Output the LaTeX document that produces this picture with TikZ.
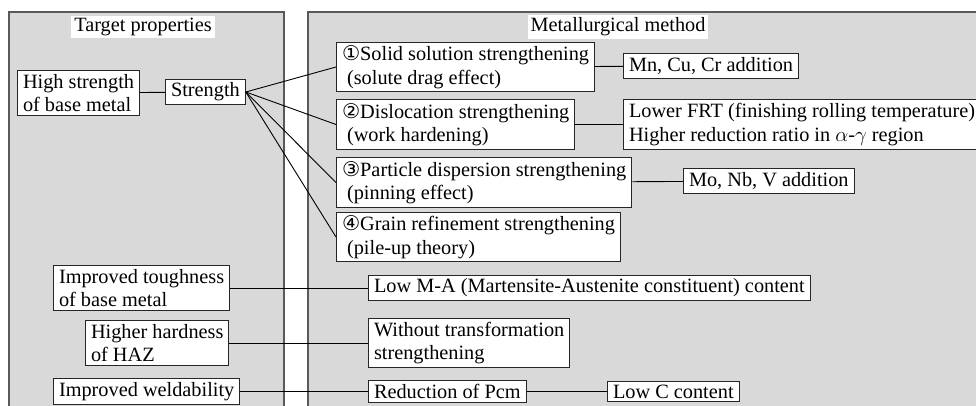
\documentclass[tikz,border=0pt]{standalone}
\usepackage{fontspec}
\setmainfont{Liberation Serif}
\newfontfamily\circfont{DejaVu Sans}
\newcommand{\cnum}[1]{{\circfont #1}}
\usetikzlibrary{positioning, calc}

\begin{document}
\begin{tikzpicture}[x=1pt, y=-1pt,
    font=\fontsize{20.3}{23.5}\selectfont,
    panel/.style={fill=black!15},
    rim/.style={draw=black!65, line width=1.2pt},
    head/.style={fill=white, inner xsep=3pt, inner ysep=2.5pt},
    box/.style={draw=black!85, fill=white, line width=1pt, align=left,
      inner xsep=5.5pt, inner ysep=3.5pt, anchor=west},
    link/.style={draw=black, line width=0.9pt}]
    \useasboundingbox (0,0) rectangle (976,406);

    % the two panels
    \fill[panel] (9,12) rectangle (284,406);
    \fill[panel] (308,12) rectangle (976,406);
    \draw[rim] (9,406) -- (9,12) -- (284,12) -- (284,406);
    \draw[rim] (308,406) -- (308,12) -- (976,12);

    \node[head] (tgthead) at (143,27) {Target properties};
    \node[head] (methead) at (618,27) {Metallurgical method};

    % strength branch
    \node[box] (basestr) at (17,93) {High strength\\of base metal};
    \node[box] (strength) at (165,92) {Strength};
    \node[box] (solid) at (336,67) {\cnum{①}Solid solution strengthening\\\ (solute drag effect)};
    \node[box] (disloc) at (336,124.5) {\cnum{②}Dislocation strengthening\\\ (work hardening)};
    \node[box] (partic) at (336,182.5) {\cnum{③}Particle dispersion strengthening\\\ (pinning effect)};
    \node[box] (grain) at (336,237) {\cnum{④}Grain refinement strengthening\\\ (pile-up theory)};
    \node[box] (mncucr) at (623,66) {Mn, Cu, Cr addition};
    \node[box] (frt) at (623,124.5)
      {Lower FRT (finishing rolling temperature)\\Higher reduction ratio in $\alpha$-$\gamma$ region};
    \node[box] (monbv) at (683,181) {Mo, Nb, V addition};

    % other properties
    \node[box] (tough) at (53,288) {Improved toughness\\of base metal};
    \node[box] (lowma) at (368,288) {Low M-A (Martensite-Austenite constituent) content};
    \node[box] (haz) at (85,343) {Higher hardness\\of HAZ};
    \node[box] (notrans) at (368,343) {Without transformation\\strengthening};
    \node[box] (weld) at (53,391.5) {Improved weldability};
    \node[box] (pcm) at (368,391.5) {Reduction of Pcm};
    \node[box] (lowc) at (607,391.5) {Low C content};

    \draw[link] (basestr) -- (strength);
    \foreach \m in {solid, disloc, partic, grain}
      \draw[link] (strength.east) -- (\m.west);
    \draw[link] (solid) -- (mncucr);
    \draw[link] (disloc) -- (frt);
    \draw[link] (partic) -- (monbv);
    \draw[link] (tough) -- (lowma);
    \draw[link] (haz) -- (notrans);
    \draw[link] (weld) -- (pcm);
    \draw[link] (pcm) -- (lowc);
  \end{tikzpicture}
\end{document}
